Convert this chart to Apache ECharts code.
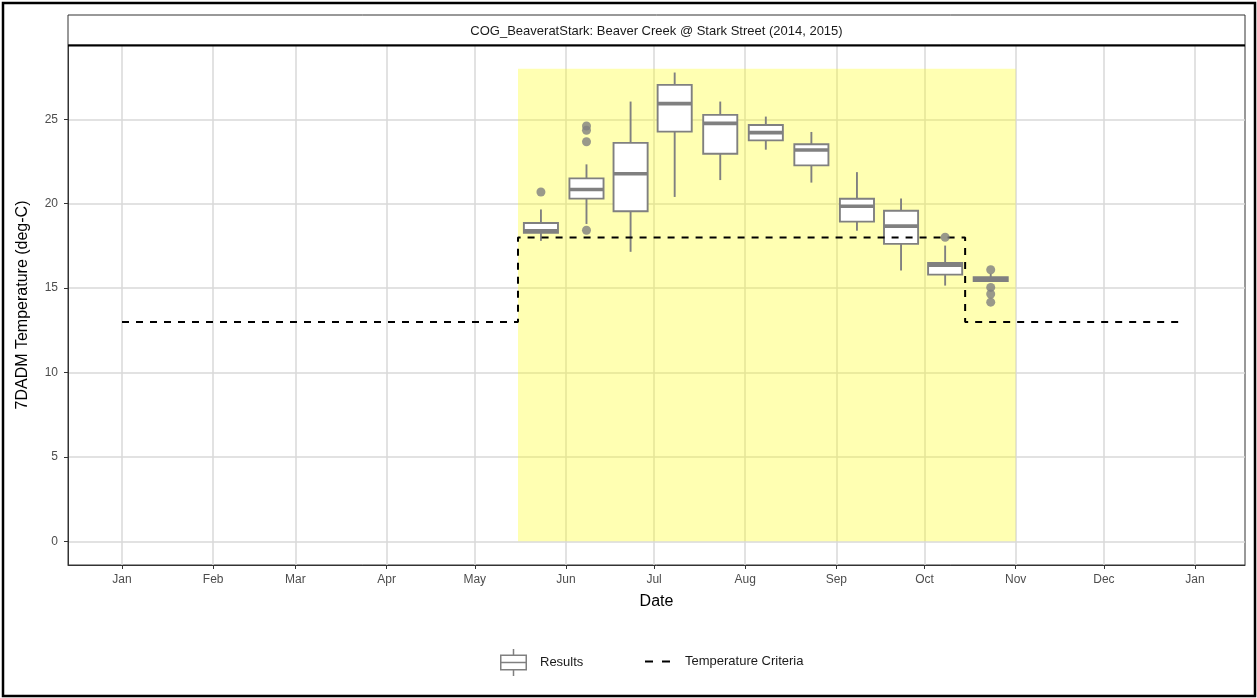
<!DOCTYPE html>
<html>
<head>
<meta charset="utf-8">
<script src="https://cdn.jsdelivr.net/npm/echarts@6/dist/echarts.min.js"></script>
<style>html,body{margin:0;padding:0;background:#fff}#c{width:1257px;height:698px}</style>
</head>
<body>
<div id="c"></div>
<script>
// ---- data ----
const monthLabels = ['Jan','Feb','Mar','Apr','May','Jun','Jul','Aug','Sep','Oct','Nov','Dec','Jan'];
const monthDays = [0,31,59,90,120,151,181,212,243,273,304,334,365];
const yTicks = [0,5,10,15,20,25];
const boxDays = [142.5,158,173,188,203.5,219,234.5,250,265,280,295.5];
const boxLow  = [17.80,18.80,17.15,20.40,21.40,23.20,21.25,18.40,16.05,15.15,15.40];
const boxQ1   = [18.27,20.30,19.55,24.27,22.96,23.75,22.27,18.94,17.62,15.80,15.42];
const boxMed  = [18.40,20.84,21.77,25.93,24.76,24.21,23.18,19.85,18.67,16.35,15.54];
const boxQ3   = [18.86,21.50,23.60,27.04,25.26,24.66,23.52,20.29,19.58,16.49,15.64];
const boxHigh = [19.66,22.33,26.05,27.77,26.05,25.16,24.25,21.87,20.31,17.52,15.85];
const outlierDays = [142.5,158,158,158,158,280,295.5,295.5,295.5,295.5];
const outlierVals = [20.69,24.60,24.35,23.67,18.43,18.01,16.09,15.04,14.65,14.17];
const critDays = [0,134.7,134.7,286.8,286.8,360];
const critVals = [13,13,18,18,13,13];
const shadeDays = [134.7,304];
const shadeVals = [0,28];

// ---- build ----
const boxData = boxDays.map((d,i)=>[d, boxLow[i], boxQ1[i], boxMed[i], boxQ3[i], boxHigh[i]]);
const outData = outlierDays.map((d,i)=>[d, outlierVals[i]]);
const critData = critDays.map((d,i)=>[d, critVals[i]]);

const BOX_W_DAYS = 11.6;
const GREY = '#808080';
const FONT = '"Liberation Sans", Arial, sans-serif';

function renderBox(params, api){
  const x = api.value(0);
  const lo = api.coord([x, api.value(1)]);
  const q1 = api.coord([x, api.value(2)]);
  const md = api.coord([x, api.value(3)]);
  const q3 = api.coord([x, api.value(4)]);
  const hi = api.coord([x, api.value(5)]);
  const w = api.size([BOX_W_DAYS, 0])[0];
  const cx = lo[0];
  const lw = 1.9;
  return {type:'group', children:[
    {type:'line', shape:{x1:cx,y1:hi[1],x2:cx,y2:q3[1]}, style:{stroke:GREY, lineWidth:lw}},
    {type:'line', shape:{x1:cx,y1:q1[1],x2:cx,y2:lo[1]}, style:{stroke:GREY, lineWidth:lw}},
    {type:'rect', shape:{x:cx-w/2,y:q3[1],width:w,height:q1[1]-q3[1]}, style:{fill:'#fff', stroke:GREY, lineWidth:lw}},
    {type:'line', shape:{x1:cx-w/2,y1:md[1],x2:cx+w/2,y2:md[1]}, style:{stroke:GREY, lineWidth:3.6}}
  ]};
}

const boxIcon = 'path://M0,5.5h27v1.5h-27z M0,20h27v1.5h-27z M0,5.5h1.5v16h-1.5z M25.5,5.5h1.5v16h-1.5z M0,12.75h27v1.5h-27z M12.75,0h1.5v5.5h-1.5z M12.75,21.5h1.5v5.5h-1.5z';
const dashIcon = 'path://M0,0h8v2h-8z M17,0h8v2h-8z';

const chart = echarts.init(document.getElementById('c'), null, {renderer:'canvas'});
chart.setOption({
  animation:false,
  backgroundColor:'#fff',
  textStyle:{fontFamily:FONT},
  grid:{left:68, right:12, top:45, bottom:133, show:true, borderColor:'#333', borderWidth:1, backgroundColor:'transparent'},
  xAxis:{
    type:'value', min:-18.37, max:382.0,
    name:'Date', nameLocation:'middle', nameGap:29,
    nameTextStyle:{fontFamily:FONT, fontSize:16, color:'#000'},
    axisLine:{show:true, onZero:false, lineStyle:{color:'#333', width:1}},
    axisTick:{show:true, customValues:monthDays, length:4, lineStyle:{color:'#333'}},
    axisLabel:{customValues:monthDays, margin:9, fontFamily:FONT, fontSize:12, color:'#4d4d4d',
      formatter:(v)=>{const i = monthDays.indexOf(Math.round(v)); return i>=0 ? monthLabels[i] : '';}},
    splitLine:{show:true, lineStyle:{color:'#d9d9d9', width:1.5}}
  },
  yAxis:{
    type:'value', min:-1.4, max:29.4,
    name:'7DADM Temperature (deg-C)', nameLocation:'middle', nameGap:37,
    nameTextStyle:{fontFamily:FONT, fontSize:16, color:'#000'},
    axisLine:{show:true, onZero:false, lineStyle:{color:'#333', width:1}},
    axisTick:{show:true, customValues:yTicks, length:4, lineStyle:{color:'#333'}},
    axisLabel:{customValues:yTicks, margin:10, fontFamily:FONT, fontSize:12, color:'#4d4d4d'},
    splitLine:{show:true, lineStyle:{color:'#d9d9d9', width:1.5}}
  },
  legend:[
    {data:[{name:'Results', icon:boxIcon}], left:500, top:649, padding:0, itemWidth:27, itemHeight:27,
     itemStyle:{borderWidth:0}, textStyle:{fontFamily:FONT, fontSize:13, color:'#1a1a1a', padding:[0,0,0,8]}, selectedMode:false},
    {data:[{name:'Temperature Criteria', icon:dashIcon}], left:645, top:655, padding:0, itemWidth:25, itemHeight:2,
     itemStyle:{borderWidth:0}, textStyle:{fontFamily:FONT, fontSize:13, color:'#1a1a1a', padding:[0,0,0,10]}, selectedMode:false}
  ],
  graphic:[
    {type:'rect', z:100, shape:{x:68, y:15, width:1177, height:30}, style:{fill:'#fff', stroke:'#333', lineWidth:1}},
    {type:'line', z:101, shape:{x1:68, y1:45.5, x2:1245, y2:45.5}, style:{stroke:'#000', lineWidth:2}},
    {type:'text', z:102, x:656.5, y:31, style:{text:'COG_BeaveratStark: Beaver Creek @ Stark Street (2014, 2015)', fontFamily:FONT, fontSize:13, fill:'#1a1a1a', align:'center', verticalAlign:'middle'}},
    {type:'rect', z:100, shape:{x:3, y:3, width:1252, height:693}, style:{fill:null, stroke:'#000', lineWidth:2.5}}
  ],
  series:[
    {name:'shade', type:'line', data:[], z:1, silent:true,
     markArea:{silent:true, itemStyle:{color:'rgba(255,255,0,0.3)'},
       data:[[{xAxis:shadeDays[0], yAxis:shadeVals[0]},{xAxis:shadeDays[1], yAxis:shadeVals[1]}]]}},
    {name:'Temperature Criteria', type:'line', data:critData, z:4, symbol:'none', showSymbol:false,
     color:'#000', lineStyle:{color:'#000', width:2, type:[7,7]}, silent:true},
    {name:'Results', type:'custom', data:boxData, z:3, renderItem:renderBox, color:GREY, itemStyle:{color:GREY},
     encode:{x:0, y:[1,2,3,4,5]}, silent:true},
    {name:'Results', type:'scatter', data:outData, z:5, symbol:'circle', symbolSize:9, itemStyle:{color:GREY}, silent:true}
  ]
});
</script>
</body>
</html>
